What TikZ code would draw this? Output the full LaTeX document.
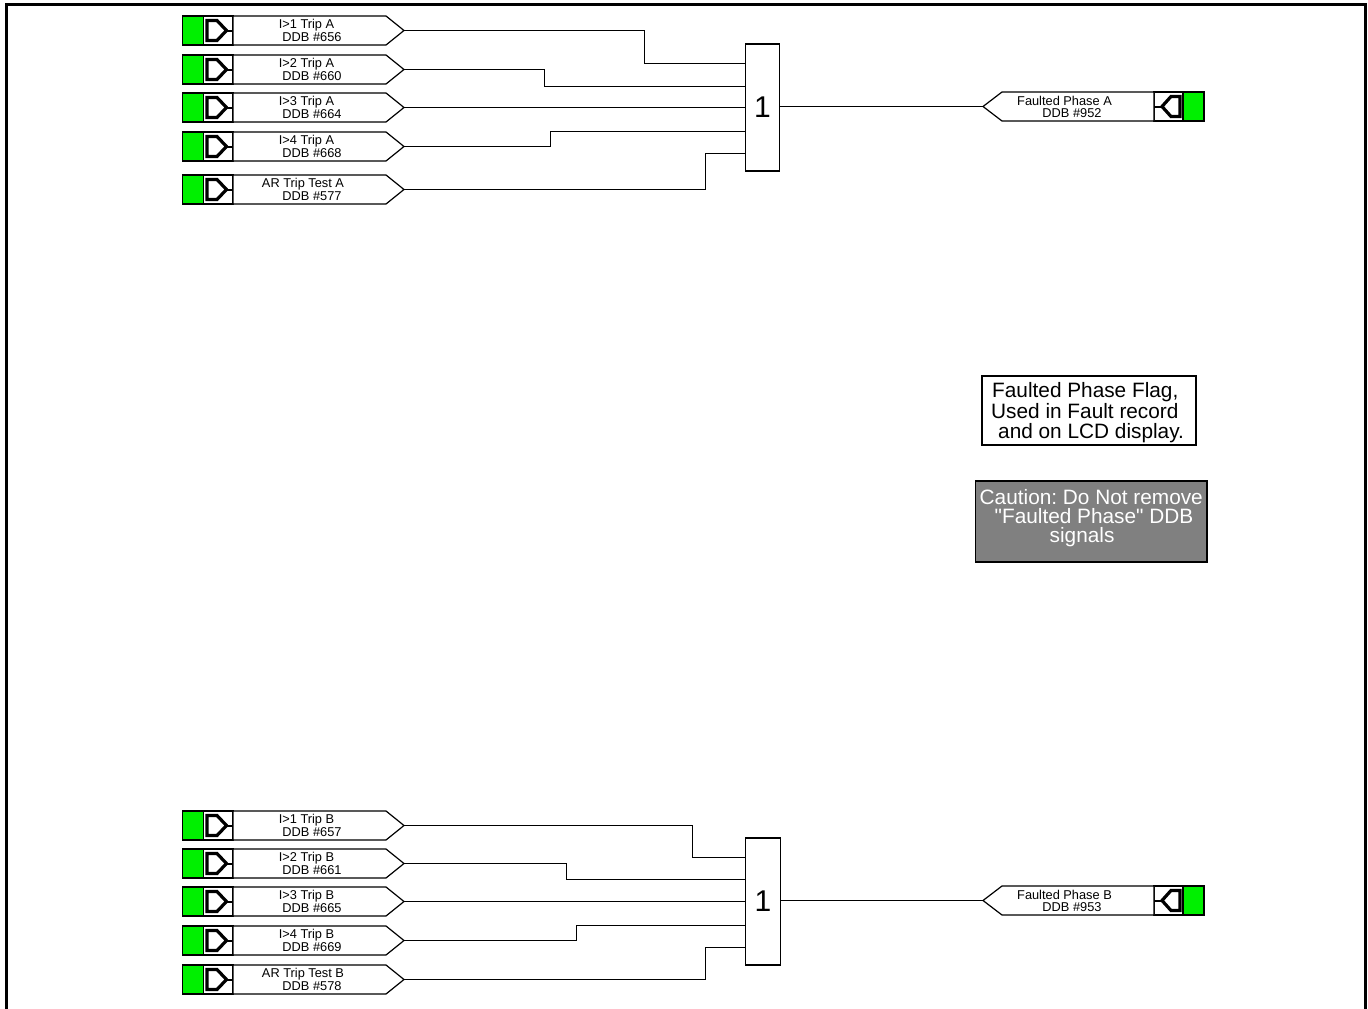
\documentclass[tikz,border=0pt]{standalone}
\usepackage{fontspec}
\setmainfont[Ligatures=TeXOff]{Liberation Sans}
\definecolor{sigGreen}{RGB}{0,240,0}
\definecolor{noteGray}{RGB}{128,128,128}
\tikzset{
  x=1pt,y=-1pt,
  sigbox/.style={draw=black,line width=1.2pt,fill=white,line join=miter},
  greencell/.style={draw=black,line width=1.2pt,fill=sigGreen},
  iconshape/.style={draw=black,line width=3.2pt,line join=miter},
  iconstub/.style={draw=black,line width=2pt},
  sigtext/.style={font=\fontsize{12.8}{12}\selectfont,inner sep=0pt,text=black},
  wire/.style={draw=black,line width=1.2pt},
  gatebox/.style={draw=black,line width=1.2pt,fill=white,minimum width=34.5pt,minimum height=127pt,inner sep=0pt,font=\fontsize{30}{30}\selectfont},
  notefont/.style={font=\frenchspacing\fontsize{20.8}{20.5}\selectfont,inner sep=0pt,align=left,anchor=west}
}
% input signal: #1 name, #2 top y, #3 first line, #4 first-line centre x, #5 second line
\newcommand{\insig}[5]{%
  \path[greencell] (182.5,#2) rectangle (203.5,#2+29);
  \path[sigbox] (203.5,#2) rectangle (233,#2+29);
  \path[sigbox] (233,#2) -- (386,#2) -- (404,#2+14.5) -- (386,#2+29) -- (233,#2+29) -- cycle;
  \path[iconshape] (207,#2+4.5) -- (217,#2+4.5) -- (226.5,#2+14.5) -- (217,#2+24.5) -- (207,#2+24.5) -- cycle;
  \path[iconstub] (226.5,#2+14.5) -- (233,#2+14.5);
  \coordinate (#1) at (404,#2+14.5);
  \node[sigtext] (#1a) at (#4,#2+9) {#3};
  \node[sigtext] (#1b) at (312,#2+20.7) {#5};
}
% output signal: #1 name, #2 top y, #3 first line, #4 second line
\newcommand{\outsig}[4]{%
  \path[greencell] (1183,#2) rectangle (1204,#2+29);
  \path[sigbox] (1154,#2) rectangle (1183,#2+29);
  \path[sigbox] (1154,#2) -- (1002,#2) -- (983,#2+14.5) -- (1002,#2+29) -- (1154,#2+29) -- cycle;
  \path[iconshape] (1180,#2+4.5) -- (1171,#2+4.5) -- (1162,#2+14.5) -- (1171,#2+24.5) -- (1180,#2+24.5) -- cycle;
  \path[iconstub] (1162,#2+14.5) -- (1154,#2+14.5);
  \coordinate (#1) at (983,#2+14.5);
  \node[sigtext] (#1a) at (1064.5,#2+9) {#3};
  \node[sigtext] (#1b) at (1072,#2+21) {#4};
}
\begin{document}
\begin{tikzpicture}
\useasboundingbox (0,0) rectangle (1368,1009);
\draw[line width=3pt] (6.5,1009) -- (6.5,4) -- (1365,4) -- (1365,1009);

\insig{ia}{16}{I>1 Trip A}{306.5}{DDB \#656}
\insig{ib}{55}{I>2 Trip A}{306.5}{DDB \#660}
\insig{ic}{93}{I>3 Trip A}{306.5}{DDB \#664}
\insig{id}{132}{I>4 Trip A}{306.5}{DDB \#668}
\insig{ie}{175}{AR Trip Test A}{303}{DDB \#577}
\outsig{oa}{92}{Faulted Phase A}{DDB \#952}
\node[gatebox] (ga) at (762.5,107.5) {1};

\draw[wire] (ia) -| (644.5,63.5) -- (ga.west |- 0,63.5);
\draw[wire] (ib) -| (544.5,86.5) -- (ga.west |- 0,86.5);
\draw[wire] (ic) -- (ga.west |- ic);
\draw[wire] (id) -| (550.5,131.5) -- (ga.west |- 0,131.5);
\draw[wire] (ie) -| (705.5,153.5) -- (ga.west |- 0,153.5);
\draw[wire] (ga.east |- oa) -- (oa);

\insig{ja}{811}{I>1 Trip B}{306.5}{DDB \#657}
\insig{jb}{849}{I>2 Trip B}{306.5}{DDB \#661}
\insig{jc}{887}{I>3 Trip B}{306.5}{DDB \#665}
\insig{jd}{926}{I>4 Trip B}{306.5}{DDB \#669}
\insig{je}{965}{AR Trip Test B}{303}{DDB \#578}
\outsig{ob}{886}{Faulted Phase B}{DDB \#953}
\node[gatebox] (gb) at (763,901.5) {1};

\draw[wire] (ja) -| (692.5,857.5) -- (gb.west |- 0,857.5);
\draw[wire] (jb) -| (566.5,879.5) -- (gb.west |- 0,879.5);
\draw[wire] (jc) -- (gb.west |- jc);
\draw[wire] (jd) -| (576.5,925.5) -- (gb.west |- 0,925.5);
\draw[wire] (je) -| (705.5,947.5) -- (gb.west |- 0,947.5);
\draw[wire] (gb.east |- ob) -- (ob);

\path[draw=black,line width=1.4pt,fill=white] (982,376) rectangle (1196,445);
\node[notefont,text=black] (flag) at (991,413) {\hspace*{1pt}Faulted Phase Flag,\\Used in Fault record\\\hspace*{7pt}and on LCD display.};

\path[draw=black,line width=1.4pt,fill=noteGray] (975.5,481) rectangle (1207,562);
\node[notefont,text=white,font=\frenchspacing\fontsize{20.8}{19}\selectfont] (caution) at (979.5,518) {Caution: Do Not remove\\\hspace*{15pt}"Faulted Phase" DDB\\\hspace*{70pt}signals};
\end{tikzpicture}
\end{document}
